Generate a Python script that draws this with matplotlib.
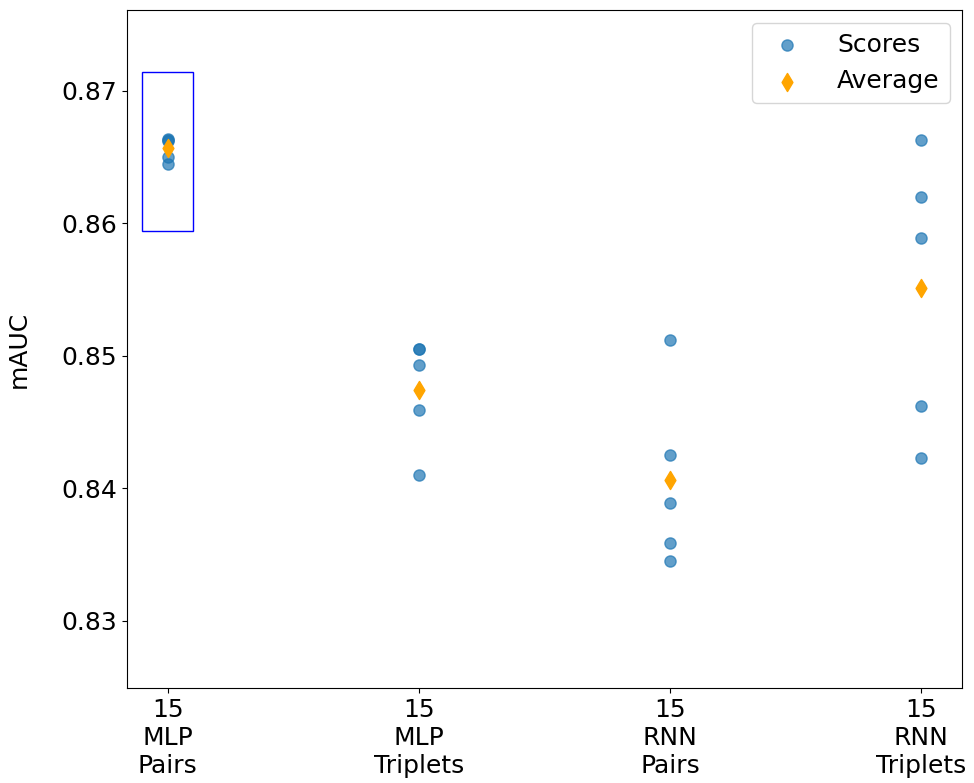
import matplotlib
matplotlib.use("Agg")
import matplotlib.pyplot as plt
from matplotlib.patches import Rectangle

# model groups shown on the x axis
labels = ["15\nMLP\nPairs", "15\nMLP\nTriplets", "15\nRNN\nPairs", "15\nRNN\nTriplets"]

# mAUC scores per group
mlp_pairs = [0.8664, 0.8663, 0.8662, 0.8650, 0.8645]
mlp_triplets = [0.8505, 0.8505, 0.8493, 0.8459, 0.8410]
rnn_pairs = [0.8512, 0.8425, 0.8389, 0.8359, 0.8345]
rnn_triplets = [0.8663, 0.8620, 0.8589, 0.8462, 0.8423]

scores = [mlp_pairs, mlp_triplets, rnn_pairs, rnn_triplets]

plt.rcParams["font.size"] = 18

fig = plt.figure(figsize=(9.74, 7.83), dpi=100)
ax = fig.add_axes([0.130, 0.121, 0.858, 0.866])

for i, s in enumerate(scores):
    ax.scatter([i] * len(s), s, s=65, color="C0", alpha=0.7,
               label="Scores" if i == 0 else None, zorder=2)
for i, s in enumerate(scores):
    ax.scatter([i], [sum(s) / len(s)], s=85, marker="d", color="orange",
               label="Average" if i == 0 else None, zorder=3)

# highlight box around the best group
ax.add_patch(Rectangle((-0.1, 0.8594), 0.2, 0.012, fill=False,
                       edgecolor="blue", linewidth=1))

ax.set_xticks(range(len(labels)))
ax.set_xticklabels(labels)
ax.set_xlim(-0.163, 3.163)
ax.set_ylim(0.8249, 0.8761)
ax.set_yticks([0.83, 0.84, 0.85, 0.86, 0.87])
ax.set_ylabel("mAUC", labelpad=22)
ax.legend(loc="upper right", handletextpad=1.0)

fig.savefig("out.png", dpi=100)
